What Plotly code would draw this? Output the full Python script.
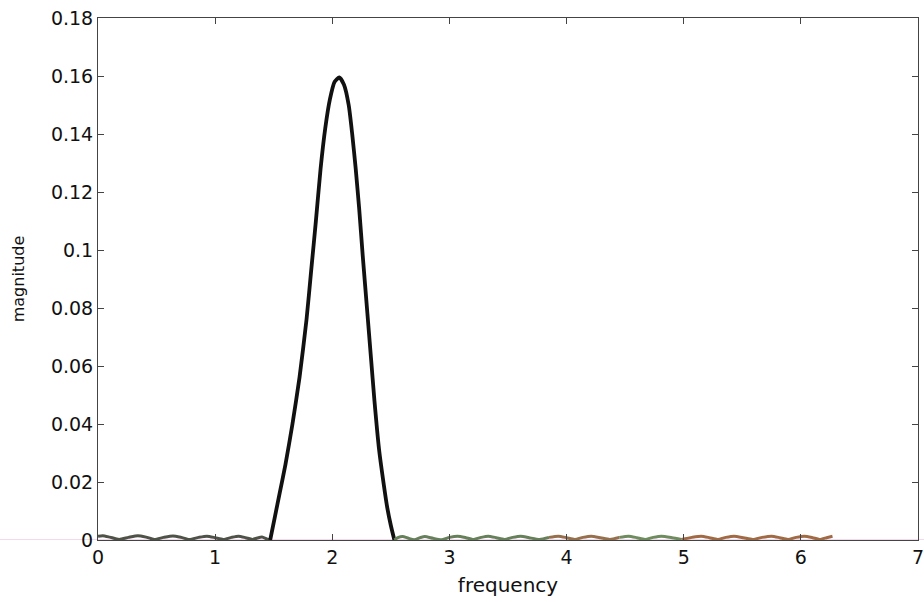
import plotly.graph_objects as go

# frequency (rad/sample) and magnitude
freq = [0.00, 0.04, 0.10, 0.18, 0.26, 0.34, 0.41, 0.48, 0.56, 0.64, 0.71, 0.78,
        0.86, 0.93, 1.00, 1.07, 1.14, 1.20, 1.26, 1.32, 1.36, 1.40, 1.44, 1.47,
        1.51, 1.55, 1.60, 1.66, 1.72, 1.78, 1.82, 1.86, 1.90, 1.94, 1.98, 2.02,
        2.06, 2.10, 2.14, 2.17, 2.20, 2.23, 2.26, 2.30, 2.33, 2.36, 2.40, 2.44,
        2.47, 2.50, 2.53,
        2.56, 2.60, 2.65, 2.70, 2.75, 2.79, 2.86, 2.93, 3.00, 3.07, 3.14, 3.20,
        3.27, 3.33, 3.40, 3.47, 3.54, 3.61, 3.68, 3.77, 3.85, 3.93, 4.00, 4.07,
        4.14, 4.21, 4.29, 4.37, 4.45, 4.53, 4.60, 4.67, 4.74, 4.81, 4.90, 4.98,
        5.07, 5.15, 5.22, 5.29, 5.36, 5.43, 5.51, 5.59, 5.67, 5.75, 5.82, 5.89,
        5.96, 6.03, 6.10, 6.16, 6.22, 6.27]
magnitude = [0.0013, 0.0015, 0.0010, 0.0002, 0.0009, 0.0015, 0.0010, 0.0002, 0.0009, 0.0014, 0.0009, 0.0002,
             0.0009, 0.0013, 0.0008, 0.0002, 0.0009, 0.0013, 0.0008, 0.0002, 0.0007, 0.0010, 0.0004, 0.0000,
             0.008, 0.016, 0.026, 0.040, 0.056, 0.076, 0.093, 0.110, 0.128, 0.142, 0.152, 0.158,
             0.1595, 0.157, 0.150, 0.140, 0.128, 0.114, 0.098, 0.078, 0.063, 0.048, 0.031, 0.019,
             0.011, 0.005, 0.000,
             0.0008, 0.0012, 0.0006, 0.0001, 0.0008, 0.0012, 0.0006, 0.0001, 0.0009, 0.0013, 0.0008, 0.0002,
             0.0009, 0.0013, 0.0008, 0.0002, 0.0009, 0.0013, 0.0008, 0.0002, 0.0009, 0.0013, 0.0008, 0.0002,
             0.0009, 0.0013, 0.0008, 0.0002, 0.0009, 0.0013, 0.0008, 0.0002, 0.0009, 0.0013, 0.0008, 0.0002,
             0.0009, 0.0013, 0.0008, 0.0002, 0.0009, 0.0013, 0.0008, 0.0002, 0.0009, 0.0013, 0.0008, 0.0002,
             0.0009, 0.0013, 0.0008, 0.0002, 0.0008, 0.0013]

x_ticks = [0, 1, 2, 3, 4, 5, 6, 7]
y_ticks = [0, 0.02, 0.04, 0.06, 0.08, 0.1, 0.12, 0.14, 0.16, 0.18]
y_ticktext = ["0", "0.02", "0.04", "0.06", "0.08", "0.1", "0.12", "0.14", "0.16", "0.18"]

# colour segments (scan tint): start frequency of each piece and its colour
seg_starts = [0.00, 1.47, 2.53, 3.85, 4.45, 4.98]
seg_colors = ["#4f5247", "#111111", "#66805a", "#96704c", "#6f8c5e", "#a06a44"]

fig = go.Figure()
for k, (start, col) in enumerate(zip(seg_starts, seg_colors)):
    end = seg_starts[k + 1] if k + 1 < len(seg_starts) else max(freq)
    idx = [i for i, f in enumerate(freq) if start <= f <= end]
    xs = [freq[i] for i in idx]
    ys = [magnitude[i] for i in idx]
    fig.add_trace(go.Scatter(x=xs, y=ys, mode="lines",
                             line=dict(color=col, width=3.8 if col == "#111111" else 3,
                                       shape="spline", smoothing=0.6),
                             showlegend=False, hoverinfo="skip"))

# faint pink scan line along zero
fig.add_shape(type="line", xref="paper", yref="y", x0=-98 / 820, x1=1 + 6 / 820, y0=0, y1=0,
              line=dict(color="#e6b3d9", width=1), layer="below")

font = "DejaVu Sans, Arial, sans-serif"
fig.update_layout(
    width=924, height=602,
    margin=dict(l=98, r=6, t=18, b=62),
    paper_bgcolor="white", plot_bgcolor="white",
    xaxis=dict(range=[0, 7], tickvals=x_ticks, ticks="inside", ticklen=6,
               mirror="allticks", showline=True, linecolor="#444", linewidth=1,
               showgrid=False, zeroline=False, automargin=False, ticklabeloverflow="allow",
               tickfont=dict(family=font, size=19, color="#111"),
               title=dict(text="frequency", font=dict(family=font, size=20, color="#111"),
                          standoff=11)),
    yaxis=dict(range=[0, 0.18], tickvals=y_ticks, ticktext=y_ticktext, ticks="inside",
               ticklen=6, mirror="allticks", showline=True, linecolor="#444", linewidth=1,
               showgrid=False, zeroline=False, automargin=False, ticklabeloverflow="allow",
               tickfont=dict(family=font, size=19, color="#111"),
               title=dict(text="magnitude", font=dict(family=font, size=16, color="#111"),
                          standoff=22)),
)

fig.write_html("out.html", config={"displayModeBar": False},
               post_script="document.body.style.margin='0';")
